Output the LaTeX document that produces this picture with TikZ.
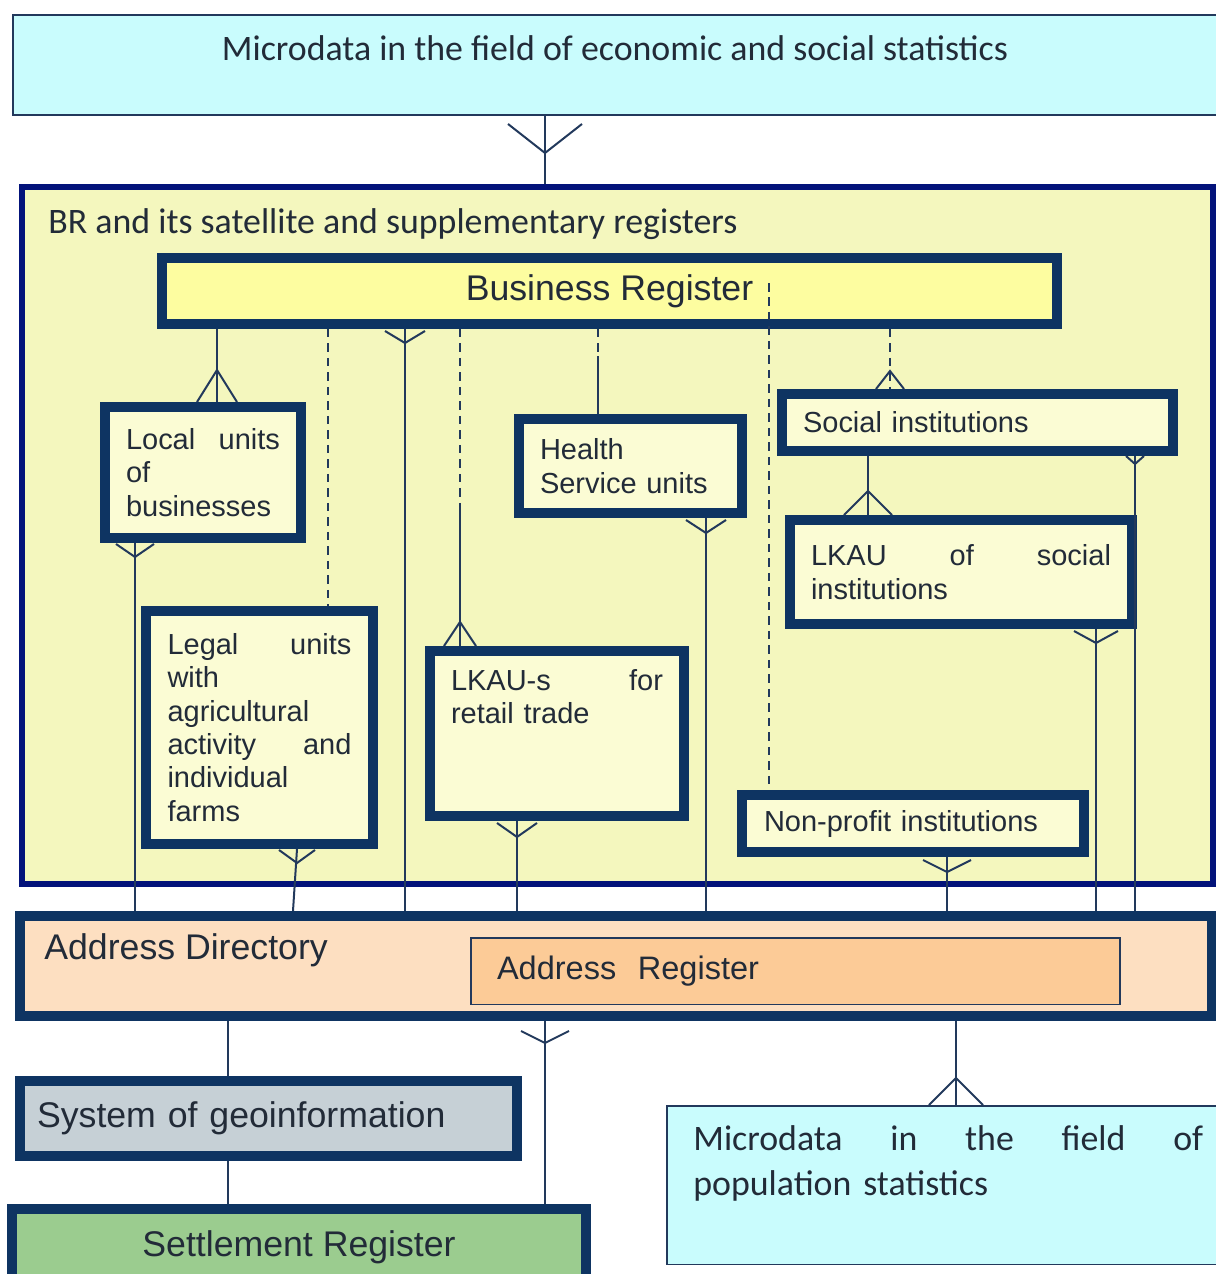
\documentclass[tikz,border=0pt]{standalone}
\usepackage{fontspec}
\setmainfont{Liberation Sans}
\newfontfamily\calfont{Carlito}
\usepackage{tikz}
\usetikzlibrary{calc}
\definecolor{navy}{HTML}{0E3462}
\definecolor{brblue}{HTML}{03137A}
\definecolor{wire}{HTML}{22395C}
\definecolor{ink}{HTML}{222B38}
\definecolor{sky}{HTML}{C9FCFD}
\definecolor{brfill}{HTML}{F4F7BE}
\definecolor{regfill}{HTML}{FDFDA0}
\definecolor{unitfill}{HTML}{FBFCD4}
\definecolor{addrfill}{HTML}{FDDFC1}
\definecolor{arfill}{HTML}{FCCB97}
\definecolor{geofill}{HTML}{C6D0D6}
\definecolor{settlefill}{HTML}{9BCC8F}
\newcommand{\smallfs}{\fontsize{16.5}{19}\selectfont}
\newcommand{\bigfs}{\fontsize{20.3}{24}\selectfont}
\newcommand{\calfs}{\calfont\fontsize{20.4}{25.5}\selectfont}

\begin{document}
\begin{tikzpicture}[x=0.02cm,y=-0.02cm,
  regbox/.style={draw=navy,line width=0.2cm,inner sep=0pt,text=ink},
  unitbox/.style={regbox,fill=unitfill,font=\smallfs,align=left},
  thinbox/.style={draw=wire,line width=0.03cm,inner sep=0pt,text=ink},
  lbl/.style={inner sep=0pt,text=ink},
  link/.style={draw=wire,line width=0.04cm},
  dlink/.style={link,line width=0.03cm,dash pattern=on 0.17cm off 0.12cm},
  pics/crow/.style n args={3}{code={\draw[link] (-#1,#3) -- (0,#2) -- (#1,#3);}}]
  \useasboundingbox (0,0) rectangle (1216,1274);
  \clip (0,0) rectangle (1216,1274);

  \node[thinbox,fill=sky,minimum width=24.22cm,minimum height=2.01cm] (mtop) at (618.5,65) {};
  \node[lbl,font=\calfs] (mtop-t) at (615,48) {Microdata in the field of economic and social statistics};

  \node[draw=brblue,line width=0.12cm,fill=brfill,minimum width=23.82cm,minimum height=13.94cm] (brx) at (617.5,535.5) {};
  \node[lbl,font=\calfs,anchor=west] (brx-t) at (48,224) {BR and its satellite and supplementary registers};
  \node[regbox,fill=regfill,font=\bigfs,minimum width=17.9cm,minimum height=1.32cm] (breg) at (609.5,291) {Business Register};

  \node[unitbox,text width=3.08cm,minimum width=3.92cm,minimum height=2.62cm] (lub) at (203,472.5) {Local\hfill units\\of\\businesses};
  \node[unitbox,text width=3.68cm,minimum width=4.54cm,minimum height=4.66cm] (lgu) at (259.5,727.5) {Legal\hfill units\\with\\agricultural\\activity\hfill and\\individual\\farms};
  \node[unitbox,minimum width=5.08cm,minimum height=3.3cm] (lkr) at (557,733.5) {};
  \node[lbl,font=\smallfs,text width=4.24cm,align=left,anchor=north] (lkr-t) at (557,669) {LKAU-s\hfill for\\retail trade};
  \node[unitbox,text width=3.62cm,minimum width=4.46cm,minimum height=1.88cm] (hsu) at (630.5,466) {Health\\Service units};
  \node[unitbox,text width=6.98cm,minimum width=7.82cm,minimum height=1.14cm] (soc) at (977.5,422.5) {Social institutions};
  \node[unitbox,text width=6cm,minimum width=6.84cm,minimum height=2.08cm] (lks) at (961,572) {LKAU\hfill of\hfill social\\institutions};
  \node[unitbox,text width=5.96cm,minimum width=6.84cm,minimum height=1.14cm] (npi) at (913,823.5) {Non-profit institutions};

  \node[regbox,fill=addrfill,minimum width=23.84cm,minimum height=2cm] (ad) at (616,966) {};
  \node[lbl,font=\bigfs,anchor=west] (ad-t) at (44,950) {Address Directory};
  \node[thinbox,fill=arfill,font=\fontsize{18.5}{22}\selectfont,text width=11.94cm,align=left,minimum width=12.99cm,minimum height=1.33cm] (ar) at (795.5,971) {Address~~Register};

  \node[regbox,fill=geofill,font=\bigfs,text width=9.26cm,align=left,minimum width=9.94cm,minimum height=1.5cm] (geo) at (268.5,1118.5) {System of geoinformation};
  \node[regbox,fill=settlefill,font=\bigfs,minimum width=11.48cm,minimum height=1.52cm] (set) at (299,1247) {Settlement Register};

  \node[thinbox,fill=sky,minimum width=11.15cm,minimum height=3.17cm] (mpop) at (945.5,1185) {};
  \node[lbl,font=\calfs,text width=10.2cm,align=left,anchor=north west] (mpop-t) at (693,1125) {Microdata\hfill in\hfill the\hfill field\hfill of\\population statistics};

  \coordinate (rt-mid) at (460,505);
  \coordinate (hs-mid) at (598,356);

  \draw[link] (545,0 |- mtop.south) -- (545,0 |- brx.north);
  \draw[link] (217,0 |- breg.south) -- (217,0 |- lub.north);
  \draw[dlink] (328,0 |- breg.south) -- (328,0 |- lgu.north);
  \draw[link] (405,0 |- breg.south) -- (405,0 |- ad.north);
  \draw[dlink] (460,0 |- breg.south) -- (rt-mid);
  \draw[link] (rt-mid) -- (460,0 |- lkr.north);
  \draw[dlink] (598,0 |- breg.south) -- (hs-mid);
  \draw[link] (hs-mid) -- (598,0 |- hsu.north);
  \draw[dlink] ($(769,0 |- breg.center)+(0,-8)$) -- (769,0 |- npi.north);
  \draw[dlink] (890,0 |- breg.south) -- (890,0 |- soc.north);
  \draw[link] (868,0 |- soc.south) -- (868,0 |- lks.north);
  \draw[link] (1135,0 |- soc.south) -- (1135,0 |- ad.north);
  \draw[link] (1096,0 |- lks.south) -- (1096,0 |- ad.north);
  \draw[link] (947,0 |- npi.south) -- (947,0 |- ad.north);
  \draw[link] (135,0 |- lub.south) -- (135,0 |- ad.north);
  \draw[link] (297,0 |- lgu.south) -- (293,0 |- ad.north);
  \draw[link] (517,0 |- lkr.south) -- (517,0 |- ad.north);
  \draw[link] (706,0 |- hsu.south) -- (706,0 |- ad.north);
  \draw[link] (228,0 |- ad.south) -- (228,0 |- geo.north);
  \draw[link] (228,0 |- geo.south) -- (228,0 |- set.north);
  \draw[link] (545,0 |- set.north) -- (545,0 |- ad.south);
  \draw[link] (956,0 |- ad.south) -- (956,0 |- mpop.north);

  \pic at (545,0 |- mtop.south) {crow={37}{37}{8}};
  \pic at (217,0 |- lub.north) {crow={20}{-32}{0}};
  \pic at (405,0 |- breg.south) {crow={20}{14}{2}};
  \pic at (460,0 |- lkr.north) {crow={16}{-24}{0}};
  \pic at (706,0 |- hsu.south) {crow={20}{15}{2}};
  \pic at (890,0 |- soc.north) {crow={14}{-18}{0}};
  \pic at (868,0 |- lks.north) {crow={24}{-24}{0}};
  \pic at (1135,0 |- soc.south) {crow={9}{8}{0}};
  \pic at (1096,0 |- lks.south) {crow={22}{14}{2}};
  \pic at (947,0 |- npi.south) {crow={24}{15}{3}};
  \pic at (135,0 |- lub.south) {crow={19}{14}{1}};
  \pic at (297,0 |- lgu.south) {crow={18}{14}{1}};
  \pic at (517,0 |- lkr.south) {crow={20}{16}{2}};
  \pic at (545,0 |- ad.south) {crow={24}{22}{10}};
  \pic at (956,0 |- mpop.north) {crow={27}{-27}{0}};
\end{tikzpicture}
\end{document}
